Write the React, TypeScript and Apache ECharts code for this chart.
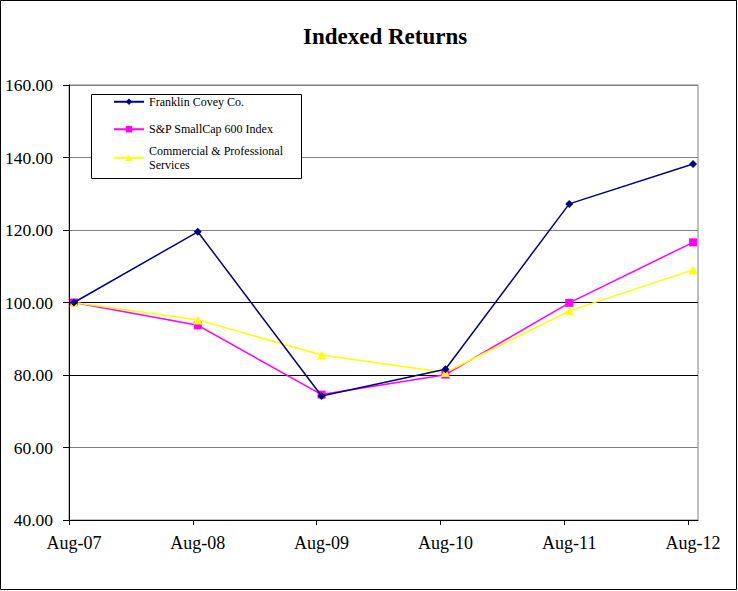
import React, { useEffect, useRef } from "react";
import * as echarts from "echarts";

const categories = ["Aug-07", "Aug-08", "Aug-09", "Aug-10", "Aug-11", "Aug-12"];
const franklin = [100, 119.5, 74.2, 81.6, 127.2, 138.2];
const sp600 = [100, 93.7, 74.6, 80.1, 99.9, 116.6];
const commercial = [100, 95.2, 85.5, 80.7, 97.7, 109.0];
const seriesNames = [
  "Franklin Covey Co.",
  "S&P SmallCap 600 Index",
  "Commercial & Professional\nServices",
];
const yTicks = [40, 60, 80, 100, 120, 140, 160];

const FONT = '"Times New Roman", "Liberation Serif", serif';

export default function App() {
  const ref = useRef<HTMLDivElement>(null);
  useEffect(() => {
    document.body.style.margin = "0";
    if (!ref.current) return;
    const chart = echarts.init(ref.current, null, { renderer: "svg" });
    const toPairs = (arr: number[]) => arr.map((v, i) => [i, v]);
    const tickPos = categories.map((_, i) => i - 0.04);
    const labelPos = categories.map((_, i) => i);
    chart.setOption({
      animation: false,
      backgroundColor: "#ffffff",
      title: {
        text: "Indexed Returns",
        left: 298,
        top: 20,
        textStyle: { fontFamily: FONT, fontSize: 23, fontWeight: "bold", color: "#000" },
      },
      grid: {
        left: 69,
        right: 40,
        top: 85,
        bottom: 71,
        show: true,
        borderColor: "#808080",
        borderWidth: 1,
        backgroundColor: "transparent",
      },
      xAxis: {
        type: "value",
        min: -0.04,
        max: 5.04,
        axisLine: { show: true, onZero: false, lineStyle: { color: "#000", width: 1 } },
        axisTick: {
          show: true,
          customValues: tickPos,
          inside: false,
          length: 5,
          lineStyle: { color: "#000" },
        },
        axisLabel: {
          customValues: labelPos,
          formatter: (v: number) => categories[Math.round(v)] ?? "",
          margin: 14,
          fontFamily: FONT,
          fontSize: 18,
          color: "#000",
        },
        splitLine: { show: false },
      },
      yAxis: {
        type: "value",
        min: yTicks[0],
        max: yTicks[yTicks.length - 1],
        interval: 20,
        axisLine: { show: true, onZero: false, lineStyle: { color: "#000", width: 1 } },
        axisTick: { show: true, length: 6, lineStyle: { color: "#000" } },
        axisLabel: {
          formatter: (v: number) => v.toFixed(2),
          margin: 16,
          fontFamily: FONT,
          fontSize: 17.5,
          color: "#000",
        },
        splitLine: {
          show: true,
          lineStyle: {
            color: ["#000", "#808080", "#000", "#000", "#808080", "#808080", "#808080"],
            width: 1,
          },
        },
      },
      legend: [
        {
          data: [seriesNames[0], seriesNames[1]],
          orient: "vertical",
          left: 113,
          top: 95,
          padding: 0,
          itemGap: 14,
          itemWidth: 30,
          itemHeight: 8,
          z: 6,
          textStyle: { fontFamily: FONT, fontSize: 12, lineHeight: 13.5, color: "#000" },
        },
        {
          data: [{ name: seriesNames[2], textStyle: { padding: [13.5, 0, 0, 0] } }],
          orient: "vertical",
          left: 113,
          top: 137.5,
          padding: 0,
          itemWidth: 30,
          itemHeight: 8,
          z: 6,
          textStyle: { fontFamily: FONT, fontSize: 12, lineHeight: 13.5, color: "#000" },
        },
      ],
      graphic: [
        {
          type: "rect",
          z: 5,
          shape: { x: 91.5, y: 94.5, width: 210, height: 84 },
          style: { fill: "#fff", stroke: "#000", lineWidth: 1 },
        },
        {
          type: "rect",
          z: 10,
          silent: true,
          shape: { x: 0.5, y: 0.5, width: 736, height: 589 },
          style: { fill: "none", stroke: "#000", lineWidth: 1 },
        },
      ],
      series: [
        {
          name: seriesNames[0],
          type: "line",
          data: toPairs(franklin),
          symbol: "diamond",
          symbolSize: 8,
          z: 3,
          lineStyle: { color: "#000080", width: 1.5 },
          itemStyle: { color: "#000080" },
        },
        {
          name: seriesNames[1],
          type: "line",
          data: toPairs(sp600),
          symbol: "rect",
          symbolSize: 8,
          z: 2,
          lineStyle: { color: "#ff00ff", width: 1.5 },
          itemStyle: { color: "#ff00ff" },
        },
        {
          name: seriesNames[2],
          type: "line",
          data: toPairs(commercial),
          symbol: "triangle",
          symbolSize: 9,
          z: 2,
          lineStyle: { color: "#ffff00", width: 1.5 },
          itemStyle: { color: "#ffff00" },
        },
      ],
    });
    return () => chart.dispose();
  }, []);
  return <div ref={ref} style={{ width: 738, height: 591 }} />;
}
